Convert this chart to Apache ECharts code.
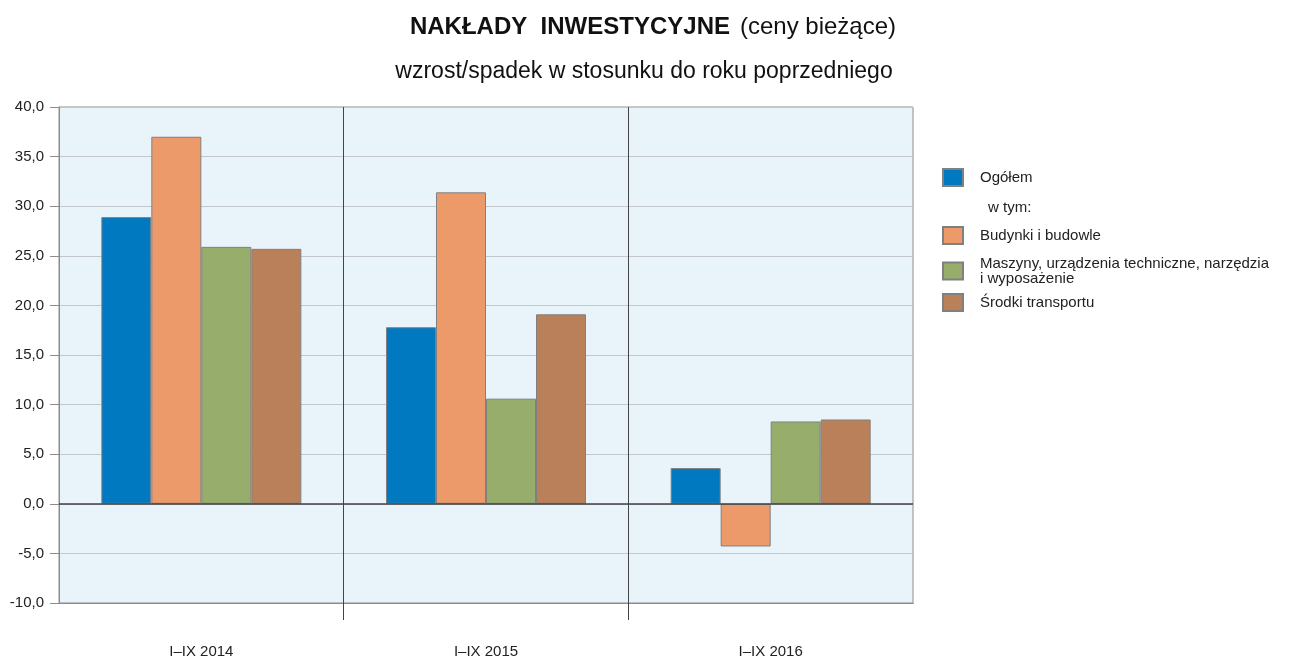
<!DOCTYPE html>
<html>
<head>
<meta charset="utf-8">
<script src="https://cdn.jsdelivr.net/npm/echarts@6/dist/echarts.min.js"></script>
<style>
html, body { margin: 0; padding: 0; background: #fff; }
#chart { width: 1290px; height: 659px; }
</style>
</head>
<body>
<div id="chart"></div>
<script>
// dane
const categories = ["I\u2013IX 2014", "I\u2013IX 2015", "I\u2013IX 2016"]
const ogolem = [28.9, 17.8, 3.6]
const budynki = [37.0, 31.4, -4.3]
const maszyny = [25.9, 10.6, 8.3]
const srodki = [25.7, 19.1, 8.5]
const seriesNames = [
  "Ogółem",
  "Budynki i budowle",
  "Maszyny, urządzenia techniczne, narzędzia i wyposażenie",
  "Środki transportu"
]
const colors = ["#0079c1", "#ec9a6a", "#97ad6b", "#b9805a"]

const font = "Liberation Sans, Arial, sans-serif"

const makeBar = (name, values, color, withZero) => {
  const s = {
    name: name,
    type: "bar",
    data: values,
    barWidth: 50,
    barGap: "0%",
    itemStyle: { color: color, borderColor: "#808080", borderWidth: 1 }
  }
  if (withZero) {
    s.markLine = {
      silent: true,
      symbol: "none",
      label: { show: false },
      lineStyle: { color: "#404040", width: 1.5, type: "solid" },
      data: [{ yAxis: 0 }]
    }
  }
  return s
}

const legendAt = (name, top) => ({
  data: [name],
  left: 942,
  top: top,
  padding: 0,
  orient: "vertical",
  icon: "rect",
  itemWidth: 20,
  itemHeight: 17,
  selectedMode: false,
  textStyle: { fontFamily: font, fontSize: 15, color: "#222", lineHeight: 15, padding: [0, 0, 0, 12] },
  formatter: (n) => n.replace(" narzędzia i ", " narzędzia\ni ")
})

const chart = echarts.init(document.getElementById("chart"))
chart.setOption({
  animation: false,
  title: [
    {
      text: "{b|NAKŁADY  INWESTYCYJNE}  {n|(ceny bieżące)}",
      left: 648,
      top: 10,
      textAlign: "center",
      textStyle: {
        rich: {
          b: { fontFamily: font, fontSize: 24, fontWeight: "bold", color: "#111" },
          n: { fontFamily: font, fontSize: 24, fontWeight: "normal", color: "#111" }
        }
      }
    },
    {
      text: "wzrost/spadek w stosunku do roku poprzedniego",
      left: 639,
      top: 55,
      textAlign: "center",
      textStyle: { fontFamily: font, fontSize: 23, fontWeight: "normal", color: "#111" }
    }
  ],
  legend: [
    legendAt(seriesNames[0], 168),
    legendAt(seriesNames[1], 226),
    legendAt(seriesNames[2], 256),
    legendAt(seriesNames[3], 293)
  ],
  graphic: [
    {
      type: "text",
      left: 988,
      top: 200,
      style: { text: "w tym:", font: "15px " + font, fill: "#222" }
    }
  ],
  grid: {
    left: 59,
    right: 377,
    top: 107,
    bottom: 56,
    show: true,
    backgroundColor: "#e9f3fa",
    borderColor: "#8c8c8c",
    borderWidth: 1
  },
  xAxis: [
    {
      type: "category",
      data: categories,
      position: "bottom",
      axisLine: { onZero: false, lineStyle: { color: "#8c8c8c" } },
      axisTick: { show: false },
      axisLabel: { margin: 41, fontFamily: font, fontSize: 15, color: "#222" },
      splitLine: { show: false }
    },
    {
      type: "value",
      min: 0,
      max: 3,
      interval: 1,
      position: "bottom",
      axisLine: { show: true, onZero: false, lineStyle: { color: "#8c8c8c" } },
      axisLabel: { show: false },
      axisTick: { show: true, customValues: [1, 2], length: 17, lineStyle: { color: "#444" } },
      splitLine: { show: true, customValues: [1, 2], lineStyle: { color: "#444", width: 1 } }
    }
  ],
  yAxis: {
    type: "value",
    min: -10,
    max: 40,
    interval: 5,
    axisLine: { show: true, lineStyle: { color: "#8c8c8c" } },
    axisTick: { show: true, length: 9, lineStyle: { color: "#8c8c8c" } },
    axisLabel: {
      fontFamily: font,
      fontSize: 15,
      color: "#222",
      margin: 15,
      formatter: (v) => v.toFixed(1).replace(".", ",")
    },
    splitLine: { lineStyle: { color: "#c3c7ca" } }
  },
  series: [
    makeBar(seriesNames[0], ogolem, colors[0], true),
    makeBar(seriesNames[1], budynki, colors[1]),
    makeBar(seriesNames[2], maszyny, colors[2]),
    makeBar(seriesNames[3], srodki, colors[3])
  ]
})
</script>
</body>
</html>
